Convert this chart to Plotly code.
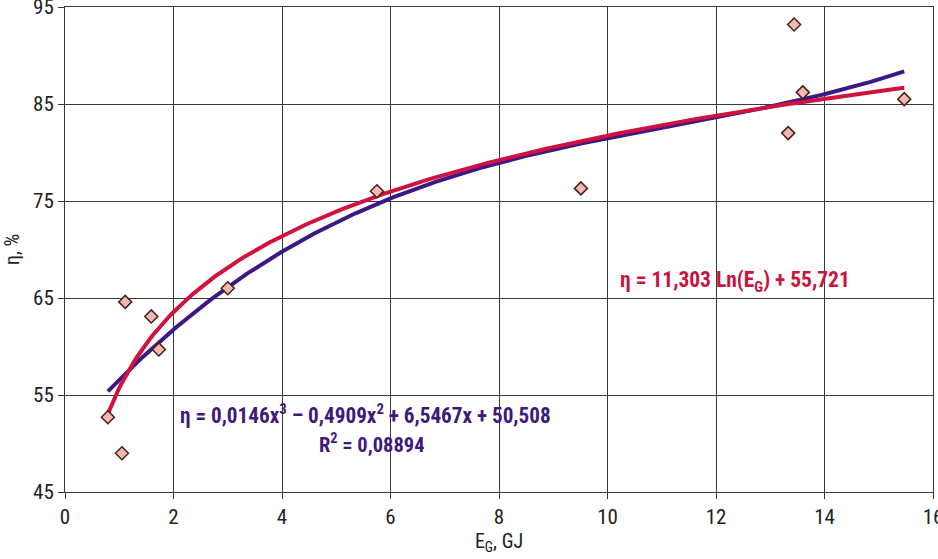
import numpy as np
import plotly.graph_objects as go

# Measured points
eg_gj = [0.79, 1.05, 1.11, 1.59, 1.73, 3.0, 5.75, 9.51, 13.33, 13.44, 13.6, 15.47]
eta_pct = [52.7, 49.0, 64.6, 63.1, 59.7, 66.0, 76.0, 76.3, 82.0, 93.2, 86.2, 85.5]

# Trendline coefficients as printed on the chart
log_coef = [11.303, 55.721]                       # a*ln(x) + b
poly_coef = [0.0146, -0.4909, 6.5467, 50.508]     # cubic, highest power first

x_ticks = [0, 2, 4, 6, 8, 10, 12, 14, 16]
y_ticks = [45, 55, 65, 75, 85, 95]

xs = np.linspace(min(eg_gj), max(eg_gj), 300)
y_log = log_coef[0] * np.log(xs) + log_coef[1]
y_poly = np.polyval(poly_coef, xs)

FONT = "Roboto Condensed, Roboto, sans-serif"
RED = "#D2123E"
PURPLE = "#3B1787"
INK = "#222222"

fig = go.Figure()
fig.add_trace(go.Scatter(x=xs, y=y_poly, mode="lines",
                         line=dict(color=PURPLE, width=4), hoverinfo="skip"))
fig.add_trace(go.Scatter(x=xs, y=y_log, mode="lines",
                         line=dict(color=RED, width=4), hoverinfo="skip"))
fig.add_trace(go.Scatter(x=eg_gj, y=eta_pct, mode="markers",
                         marker=dict(symbol="diamond", size=10, color="#F2B9B3",
                                     line=dict(color="#4A1E18", width=1.5))))

fig.add_annotation(x=10.19, y=66.75, xref="x", yref="y",
                   text="<b>η = 11,303 Ln(E<sub>G</sub>) + 55,721</b>",
                   showarrow=False, font=dict(family=FONT, size=21.5, color="#C8143E"),
                   xanchor="left", yanchor="middle")
fig.add_annotation(x=2.08, y=53.0, xref="x", yref="y",
                   text="<b>η = 0,0146x<sup>3</sup> – 0,4909x<sup>2</sup> + 6,5467x + 50,508</b>",
                   showarrow=False, font=dict(family=FONT, size=21.2, color="#3D1A7C"),
                   xanchor="left", yanchor="middle")
fig.add_annotation(x=5.66, y=50.0, xref="x", yref="y",
                   text="<b>R<sup>2</sup> = 0,08894</b>",
                   showarrow=False, font=dict(family=FONT, size=20.5, color="#3D1A7C"),
                   xanchor="center", yanchor="middle")

axis_common = dict(showgrid=True, gridcolor="#3a3a3a", gridwidth=1,
                   showline=True, linecolor="#3a3a3a", linewidth=1, mirror=True,
                   ticks="outside", ticklen=6, tickcolor="#3a3a3a",
                   zeroline=False, ticklabeloverflow="allow", automargin=False,
                   tickfont=dict(family=FONT, size=21, color=INK))

fig.update_xaxes(range=[0, 16], tickvals=x_ticks,
                 title=dict(text="E<sub>G</sub>, GJ", font=dict(family=FONT, size=20, color=INK),
                            standoff=4), **axis_common)
fig.update_yaxes(range=[45, 95], tickvals=y_ticks,
                 title=dict(text="η, %", font=dict(family=FONT, size=20, color=INK),
                            standoff=8), **axis_common)

fig.update_layout(width=938, height=559, showlegend=False,
                  margin=dict(l=65, r=5, t=7, b=67),
                  plot_bgcolor="white", paper_bgcolor="white")

fig.write_html("out.html")
